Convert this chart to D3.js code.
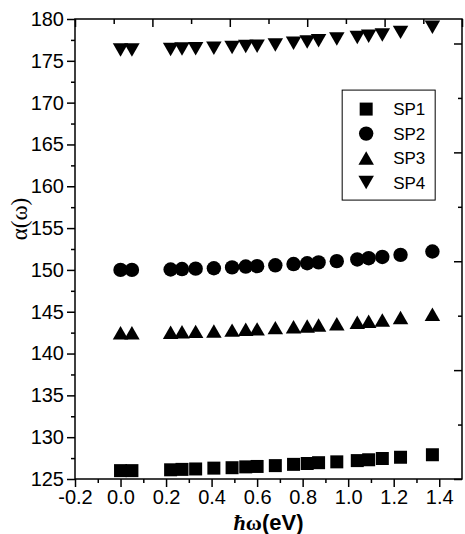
<!DOCTYPE html>
<html>
<head>
<meta charset="utf-8">
<script src="https://cdn.jsdelivr.net/npm/d3@7"></script>
<style>
  body { margin: 0; background: #fff; }
  svg text { font-family: "Liberation Sans", Arial, sans-serif; }
</style>
</head>
<body>
<div id="chart"></div>
<script>
// photon energy (eV)
const energy = [0.0, 0.05, 0.22, 0.27, 0.33, 0.41, 0.49, 0.55, 0.60, 0.68, 0.76, 0.82, 0.87, 0.95, 1.04, 1.09, 1.15, 1.23, 1.37];
const sp1 = [126.0, 126.0, 126.1, 126.15, 126.2, 126.3, 126.35, 126.45, 126.5, 126.6, 126.75, 126.85, 126.95, 127.05, 127.2, 127.3, 127.45, 127.6, 127.9];
const sp2 = [150.0, 150.0, 150.05, 150.1, 150.15, 150.2, 150.3, 150.4, 150.45, 150.55, 150.7, 150.8, 150.9, 151.05, 151.25, 151.4, 151.55, 151.8, 152.2];
const sp3 = [142.5, 142.5, 142.55, 142.6, 142.65, 142.7, 142.8, 142.9, 142.95, 143.1, 143.2, 143.3, 143.4, 143.55, 143.75, 143.85, 144.0, 144.3, 144.7];
const sp4 = [176.3, 176.3, 176.35, 176.4, 176.45, 176.5, 176.6, 176.7, 176.75, 176.9, 177.1, 177.25, 177.4, 177.6, 177.8, 177.95, 178.1, 178.4, 179.0];
const seriesNames = ["SP1", "SP2", "SP3", "SP4"];

const xTicks = [-0.2, 0.0, 0.2, 0.4, 0.6, 0.8, 1.0, 1.2, 1.4];
const xMinor = [-0.1, 0.1, 0.3, 0.5, 0.7, 0.9, 1.1, 1.3];
const yTicks = [125, 130, 135, 140, 145, 150, 155, 160, 165, 170, 175, 180];
const yMinor = [127.5, 132.5, 137.5, 142.5, 147.5, 152.5, 157.5, 162.5, 167.5, 172.5, 177.5];
const topTicks = [0, 1, 2, 3, 4, 5, 6, 7, 8, 9, 10];
const rightTicks = [0, 1, 2, 3, 4, 5, 6, 7, 8];

(() => {
  const W = 465, H = 534;
  const margin = { top: 19, right: 3, bottom: 55, left: 75 };
  const width = W - margin.left - margin.right;
  const height = H - margin.top - margin.bottom;

  const svg = d3.select("#chart").append("svg").attr("width", W).attr("height", H);
  const g = svg.append("g").attr("transform", `translate(${margin.left},${margin.top})`);

  const x = d3.scaleLinear().domain([-0.2, 1.5]).range([0, width]);
  const y = d3.scaleLinear().domain([125, 180]).range([height, 0]);
  // the mirror axes of the original use their own spacing
  const xTop = d3.scaleLinear().domain([0, 10]).range([0, width]);
  const yRight = d3.scaleLinear().domain([0, 8.45]).range([height, 0]);

  // symbols, centred on their bounding box like the original
  const triUp = { draw(ctx, w) { const h = w * 0.87; ctx.moveTo(0, -h / 2); ctx.lineTo(w / 2, h / 2); ctx.lineTo(-w / 2, h / 2); ctx.closePath(); } };
  const triDown = { draw(ctx, w) { const h = w * 0.87; ctx.moveTo(0, h / 2); ctx.lineTo(w / 2, -h / 2); ctx.lineTo(-w / 2, -h / 2); ctx.closePath(); } };
  const symbols = [
    d3.symbol().type(d3.symbolSquare).size(13 * 13),
    d3.symbol().type(d3.symbolCircle).size(Math.PI * 7.2 * 7.2),
    d3.symbol().type(triUp).size(15.5),
    d3.symbol().type(triDown).size(15.5)
  ];

  const series = [sp1, sp2, sp3, sp4].map((vals, i) => ({
    name: seriesNames[i],
    points: vals.map((v, j) => ({ x: energy[j], y: v }))
  }));

  // axes
  g.append("g").attr("transform", `translate(0,${height})`)
    .call(d3.axisBottom(x).tickValues(xTicks).tickSize(8).tickPadding(3).tickFormat(d => d.toFixed(1)));
  g.append("g").attr("transform", `translate(0,${height})`)
    .call(d3.axisBottom(x).tickValues(xMinor).tickSize(4).tickFormat(""));
  g.append("g")
    .call(d3.axisLeft(y).tickValues(yTicks).tickSize(8).tickPadding(3));
  g.append("g").call(d3.axisLeft(y).tickValues(yMinor).tickSize(4).tickFormat(""));

  g.append("g").call(d3.axisBottom(xTop).tickValues(topTicks).tickSize(5).tickFormat(""))
    .selectAll(".tick line").attr("y2", d => d % 2 === 0 ? 8 : 5);
  g.append("g").attr("transform", `translate(${width},0)`)
    .call(d3.axisLeft(yRight).tickValues(rightTicks).tickSize(8).tickFormat(""))
    .selectAll(".tick line").attr("x2", d => d % 2 === 0 ? -8 : -4);

  g.selectAll(".domain").remove();
  g.selectAll(".tick line").attr("stroke", "#000").attr("stroke-width", 1.5);
  g.selectAll(".tick text").attr("fill", "#000").style("font-size", "20px");

  g.append("rect").attr("width", width).attr("height", height)
    .attr("fill", "none").attr("stroke", "#000").attr("stroke-width", 1.5);

  // markers
  series.forEach((s, i) => {
    g.append("g").selectAll("path").data(s.points).join("path")
      .attr("transform", d => `translate(${x(d.x)},${y(d.y)})`)
      .attr("d", symbols[i]).attr("fill", "#000");
  });

  // legend
  const lg = g.append("g").attr("transform", `translate(${x(1.0) - 6},${y(171.5)})`);
  lg.append("rect").attr("width", 93).attr("height", 110)
    .attr("fill", "#fff").attr("stroke", "#000").attr("stroke-width", 1);
  series.forEach((s, i) => {
    const row = lg.append("g").attr("transform", `translate(24,${19 + i * 24.5})`);
    row.append("path").attr("d", symbols[i]).attr("fill", "#000");
    row.append("text").attr("x", 27).attr("dy", "0.35em").style("font-size", "17px").text(s.name);
  });

  // titles
  svg.append("text")
    .attr("transform", `translate(27,${margin.top + height / 2 - 30}) rotate(-90)`)
    .attr("text-anchor", "middle")
    .style("font-family", "'Liberation Serif', 'Times New Roman', serif")
    .style("font-size", "23px")
    .text("α(ω)");

  const xt = svg.append("text")
    .attr("x", margin.left + width / 2)
    .attr("y", H - 4)
    .attr("text-anchor", "middle")
    .style("font-size", "22px").style("font-weight", "bold");
  xt.append("tspan").style("font-family", "'Liberation Serif', serif").style("font-style", "italic").text("ħ");
  xt.append("tspan").style("font-family", "'Liberation Serif', serif").text("ω");
  xt.append("tspan").text("(eV)");
})();
</script>
</body>
</html>
